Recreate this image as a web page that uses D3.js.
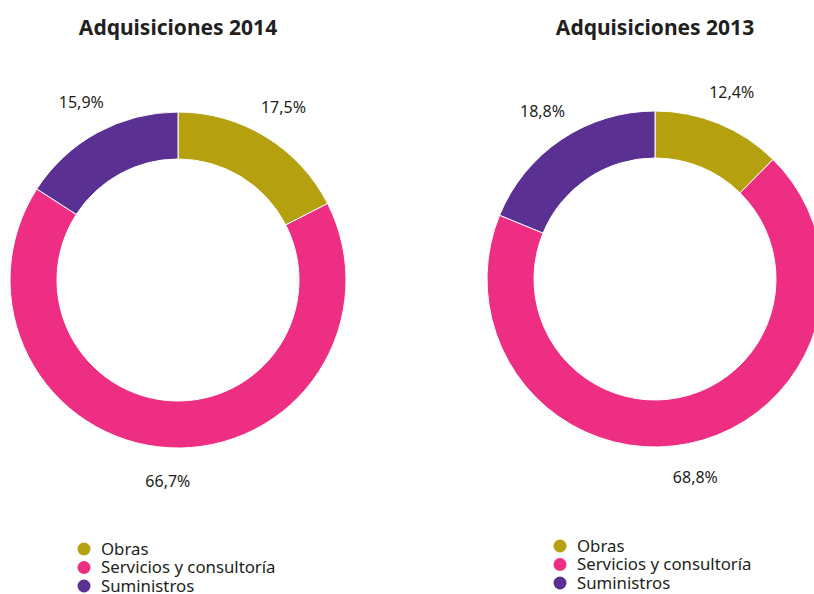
<!DOCTYPE html>
<html>
<head>
<meta charset="utf-8">
<script src="https://cdn.jsdelivr.net/npm/d3@7"></script>
<style>
    body { margin: 0; background: #fff; }
    svg { display: block; font-family: "Noto Sans", "Open Sans", sans-serif; }
    .title { font-weight: bold; font-size: 21px; fill: #231f20; }
    .pct { font-size: 16px; fill: #231f20; }
    .legend text { font-size: 16.8px; fill: #231f20; }
</style>
</head>
<body>
<script>
(function () {

    //data
    var categories = ["Obras", "Servicios y consultoría", "Suministros"];
    var years = ["2014", "2013"];
    var values2014 = [17.5, 66.7, 15.9];
    var values2013 = [12.4, 68.8, 18.8];
    var colors = ["#b5a00f", "#ee2e82", "#5a3093"];

    var width = 814,
        height = 594;

    var svg = d3.select("body")
        .append("svg")
        .attr("width", width)
        .attr("height", height);

    var color = d3.scaleOrdinal()
        .domain(categories)
        .range(colors);

    //one donut per year
    var charts = [
        { year: years[0], values: values2014, cx: 178, cy: 280, legendX: 84, legendY: 549 },
        { year: years[1], values: values2013, cx: 655, cy: 279, legendX: 560, legendY: 546 }
    ];

    var pie = d3.pie()
        .sort(null)
        .value(function (d) { return d.value; });

    var arc = d3.arc()
        .innerRadius(121)
        .outerRadius(168);

    var labelArc = d3.arc()
        .innerRadius(202)
        .outerRadius(202);

    charts.forEach(function (c) {
        var data = categories.map(function (name, i) {
            return { name: name, value: c.values[i] };
        });

        svg.append("text")
            .attr("class", "title")
            .attr("x", c.cx)
            .attr("y", 35)
            .attr("text-anchor", "middle")
            .text("Adquisiciones " + c.year);

        var g = svg.append("g")
            .attr("transform", "translate(" + c.cx + "," + c.cy + ")");

        g.selectAll(".slice")
            .data(pie(data))
            .enter()
            .append("path")
            .attr("class", "slice")
            .attr("d", arc)
            .style("fill", function (d) { return color(d.data.name); })
            .style("stroke", "#fff")
            .style("stroke-width", 1);

        g.selectAll(".pct")
            .data(pie(data))
            .enter()
            .append("text")
            .attr("class", "pct")
            .attr("transform", function (d) {
                return "translate(" + labelArc.centroid(d) + ")";
            })
            .attr("text-anchor", "middle")
            .attr("dy", "0.35em")
            .text(function (d) { return d3.format(".1f")(d.data.value).replace(".", ",") + "%"; });

        //legend
        var legend = svg.append("g")
            .attr("class", "legend")
            .attr("transform", "translate(" + c.legendX + "," + c.legendY + ")");

        var items = legend.selectAll("g")
            .data(categories)
            .enter()
            .append("g")
            .attr("transform", function (d, i) { return "translate(0," + i * 18.5 + ")"; });

        items.append("circle")
            .attr("r", 6.5)
            .style("fill", function (d) { return color(d); });

        items.append("text")
            .attr("x", 17)
            .attr("dy", "0.33em")
            .text(function (d) { return d; });
    });
})();
</script>
</body>
</html>
